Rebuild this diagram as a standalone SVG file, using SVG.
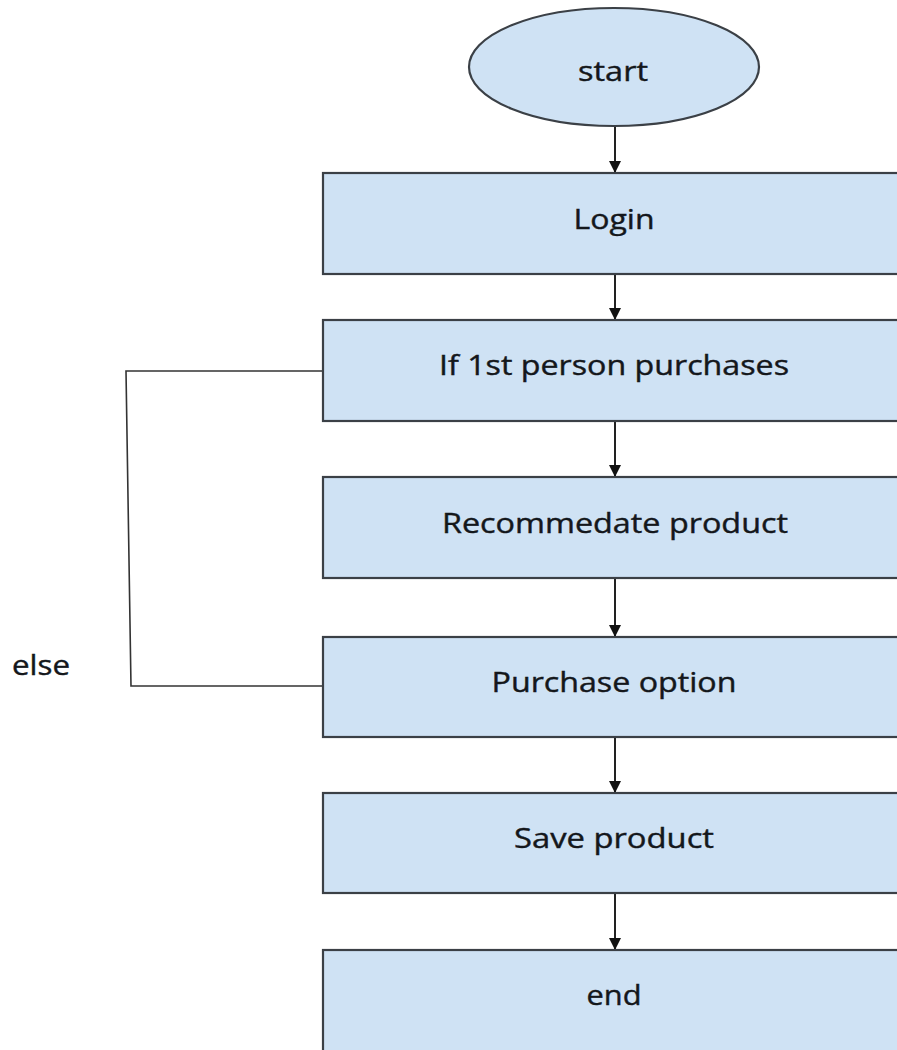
<svg xmlns="http://www.w3.org/2000/svg" width="897" height="1050" viewBox="0 0 897 1050">
<style>
.box{fill:#cfe2f4;stroke:#3b4046;stroke-width:2.2}
.lbl{font-family:"Open Sans","Liberation Sans",sans-serif;font-size:27px;fill:#14171b;stroke:#14171b;stroke-width:0.4;text-anchor:middle}
.conn{stroke:#222;stroke-width:2;fill:none}
.loop{stroke:#333;stroke-width:1.6;fill:none}
</style>
<defs>
<marker id="ah" markerWidth="12" markerHeight="14" refX="11" refY="7" orient="auto" markerUnits="userSpaceOnUse">
<path d="M0,1 L12,7 L0,13 Z" fill="#111"/>
</marker>
</defs>
<rect width="897" height="1050" fill="#fff"/>
<g id="connectors">
<line class="conn" x1="615" y1="127" x2="615" y2="172" marker-end="url(#ah)"/>
<line class="conn" x1="615" y1="275" x2="615" y2="319" marker-end="url(#ah)"/>
<line class="conn" x1="615" y1="422" x2="615" y2="476" marker-end="url(#ah)"/>
<line class="conn" x1="615" y1="579" x2="615" y2="636" marker-end="url(#ah)"/>
<line class="conn" x1="615" y1="738" x2="615" y2="792" marker-end="url(#ah)"/>
<line class="conn" x1="615" y1="894" x2="615" y2="949" marker-end="url(#ah)"/>
<polyline class="loop" points="323,371 126,371 131,686 323,686"/>
</g>
<g id="start">
<ellipse class="box" cx="614" cy="67" rx="145" ry="59"/>
<text class="lbl" x="613" y="81" textLength="70" lengthAdjust="spacingAndGlyphs">start</text>
</g>
<g id="login">
<rect class="box" x="323" y="173" width="590" height="101"/>
<text class="lbl" x="614" y="229" textLength="81" lengthAdjust="spacingAndGlyphs">Login</text>
</g>
<g id="if1st">
<rect class="box" x="323" y="320" width="590" height="101"/>
<text class="lbl" x="614" y="375" textLength="350" lengthAdjust="spacingAndGlyphs">If 1st person purchases</text>
</g>
<g id="recommend">
<rect class="box" x="323" y="477" width="590" height="101"/>
<text class="lbl" x="615" y="533" textLength="346" lengthAdjust="spacingAndGlyphs">Recommedate product</text>
</g>
<g id="purchase">
<rect class="box" x="323" y="637" width="590" height="100"/>
<text class="lbl" x="614" y="692" textLength="245" lengthAdjust="spacingAndGlyphs">Purchase option</text>
</g>
<g id="save">
<rect class="box" x="323" y="793" width="590" height="100"/>
<text class="lbl" x="614" y="848" textLength="200" lengthAdjust="spacingAndGlyphs">Save product</text>
</g>
<g id="end">
<rect class="box" x="323" y="950" width="590" height="110"/>
<text class="lbl" x="614" y="1005" textLength="55" lengthAdjust="spacingAndGlyphs">end</text>
</g>
<g id="else">
<text class="lbl" x="41" y="675" textLength="58" lengthAdjust="spacingAndGlyphs">else</text>
</g>
</svg>
